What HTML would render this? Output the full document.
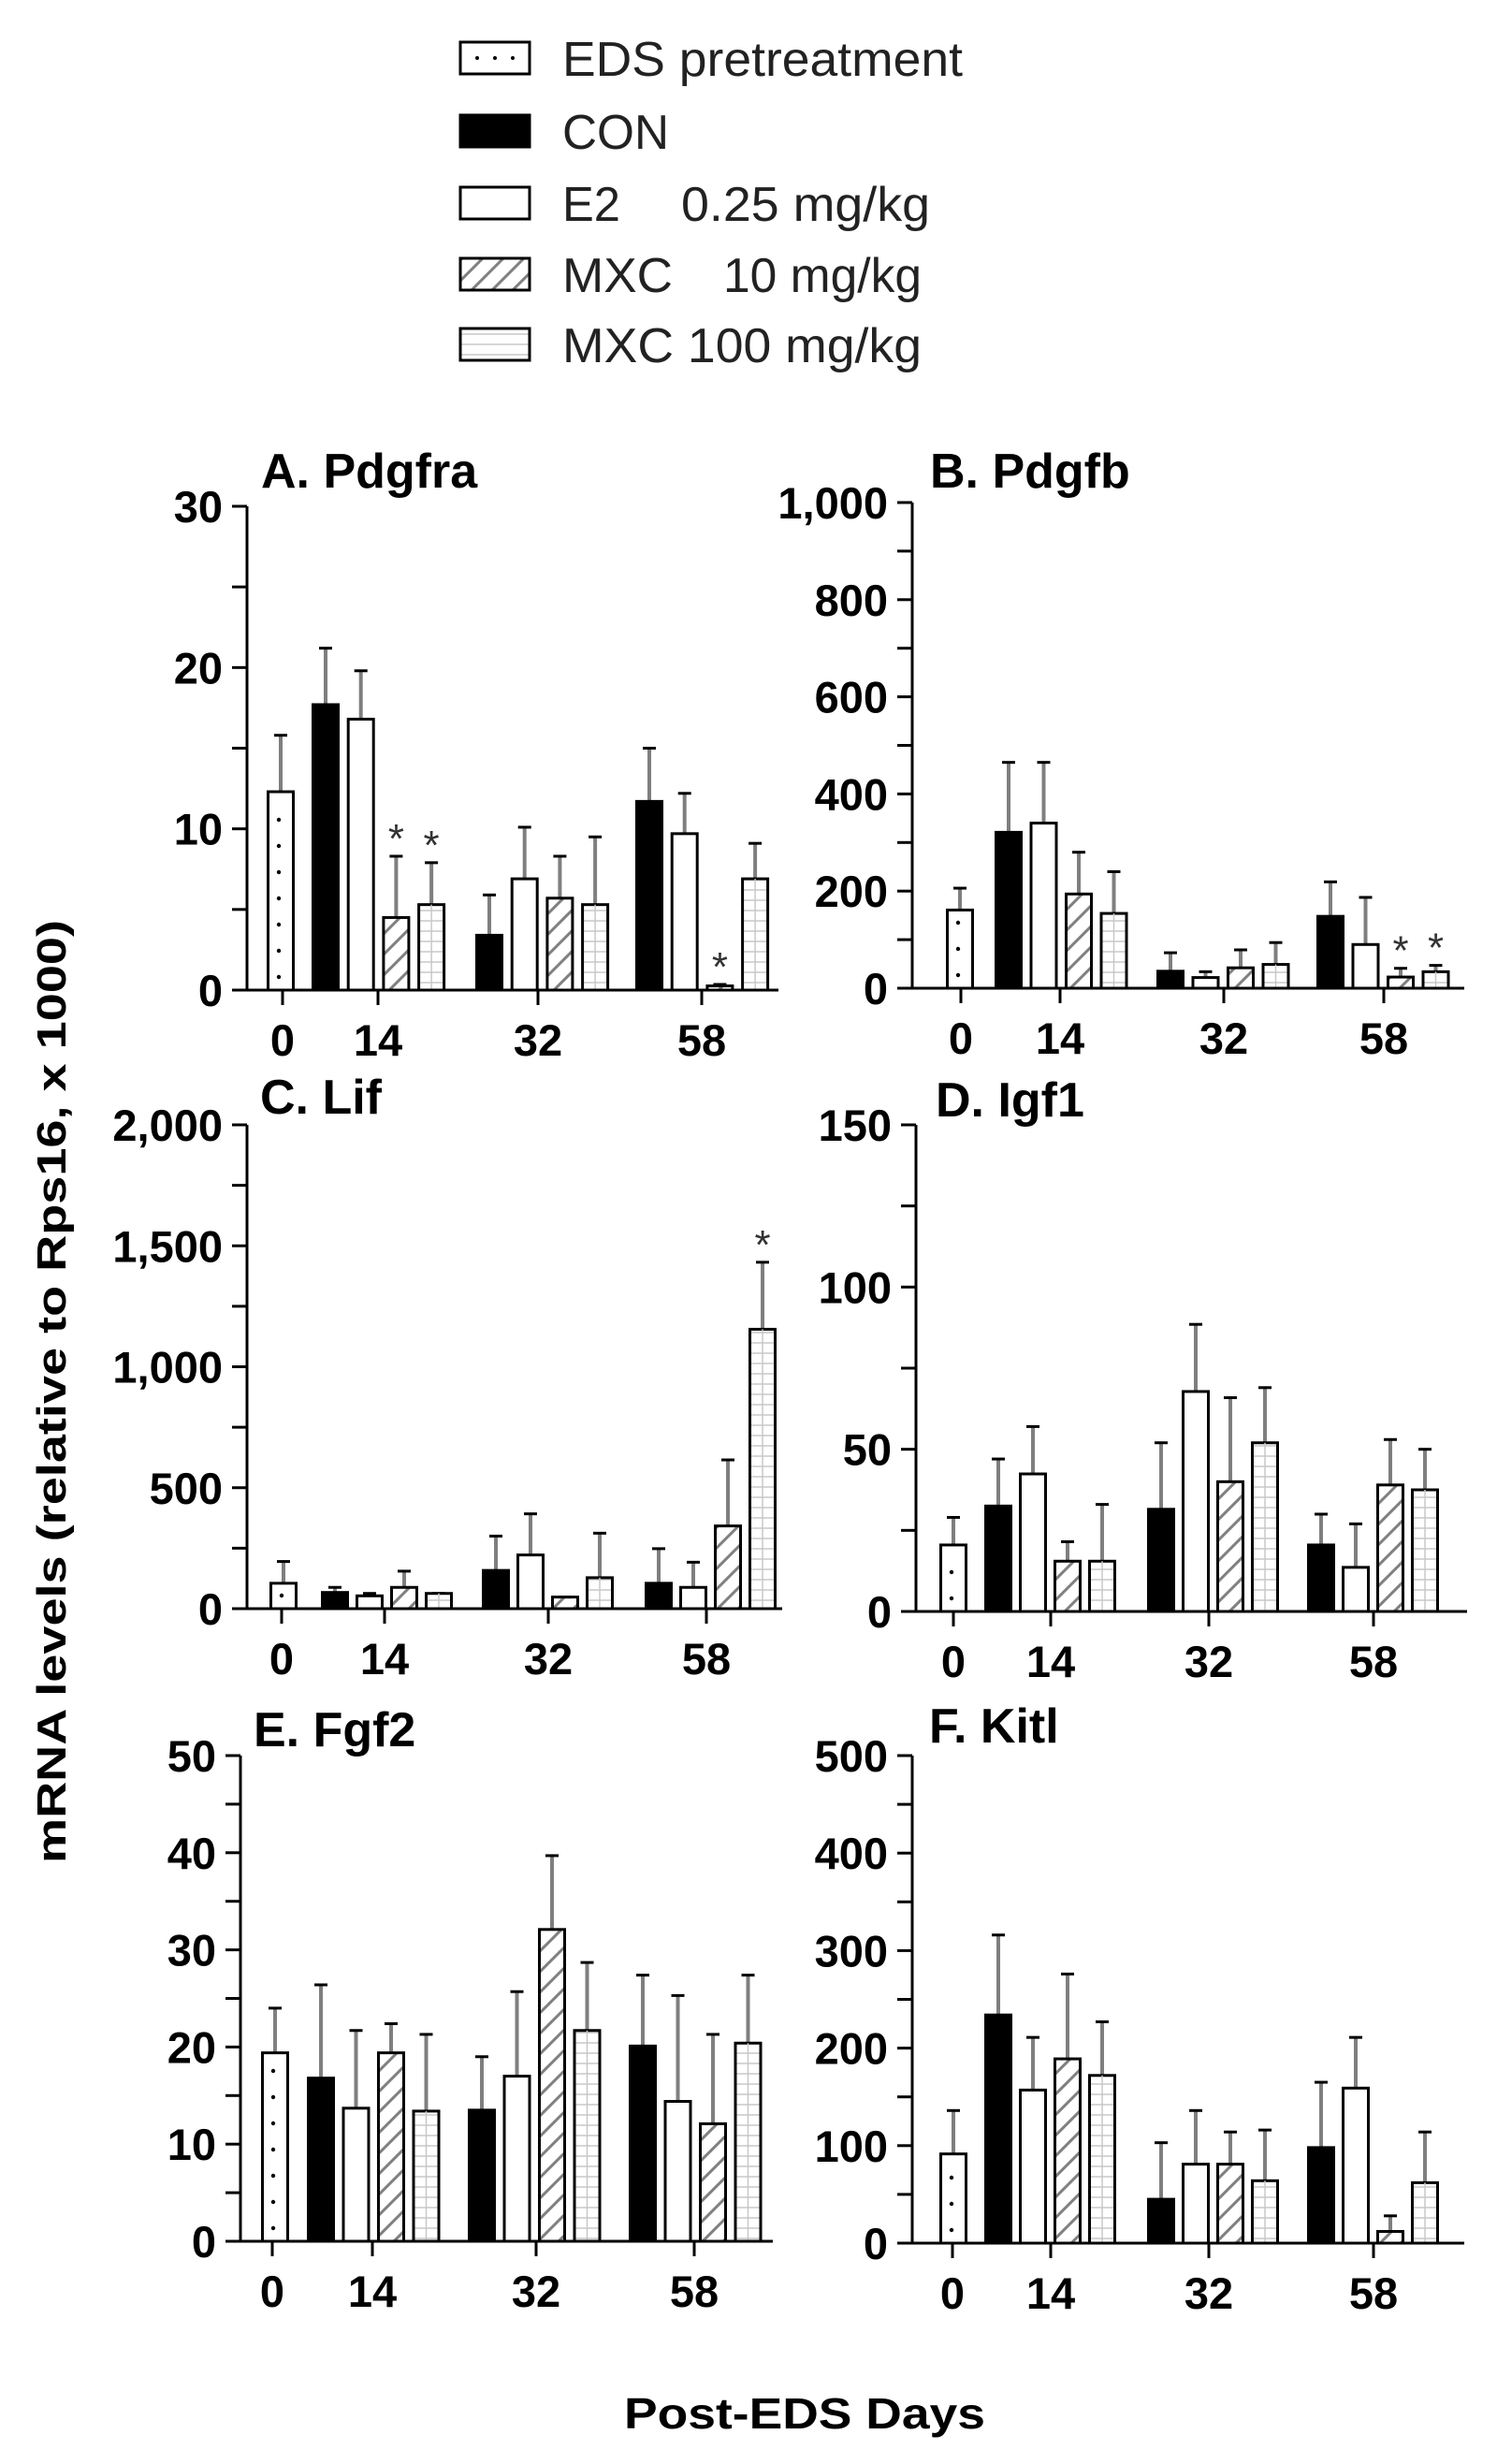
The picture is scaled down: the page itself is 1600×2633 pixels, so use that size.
<!DOCTYPE html>
<html><head><meta charset="utf-8"><style>
html,body{margin:0;padding:0;background:#fff}
svg{display:block}
text{font-family:"Liberation Sans",Arial,sans-serif}
</style></head><body>
<svg id="fig" width="1600" height="2633" viewBox="0 0 1600 2633" xmlns="http://www.w3.org/2000/svg">
<defs>
<pattern id="pHatch" patternUnits="userSpaceOnUse" width="22" height="22"><path d="M-5,27 L27,-5 M-5,5 L5,-5 M17,27 L27,17" stroke="#808080" stroke-width="3"/></pattern>
<pattern id="pGrid" patternUnits="userSpaceOnUse" width="200" height="11"><rect width="200" height="11" fill="#fff"/><line x1="0" y1="5" x2="200" y2="5" stroke="#c8c8c8" stroke-width="1.5"/></pattern>
</defs>
<g id="legend">
 <g><rect x="492" y="45" width="74" height="34" fill="#fff" stroke="#000" stroke-width="3"/><circle cx="510" cy="62" r="2" fill="#000"/><circle cx="529" cy="62" r="2" fill="#000"/><circle cx="548" cy="62" r="2" fill="#000"/>
 <text x="601" y="81" font-size="52" fill="#222" textLength="428" lengthAdjust="spacingAndGlyphs">EDS pretreatment</text></g>
 <g><rect x="492" y="123" width="74" height="34" fill="#000" stroke="#000" stroke-width="3"/>
 <text x="601" y="159" font-size="52" fill="#222" textLength="114" lengthAdjust="spacingAndGlyphs">CON</text></g>
 <g><rect x="492" y="200" width="74" height="34" fill="#fff" stroke="#000" stroke-width="3"/>
 <text x="601" y="236" font-size="52" fill="#222" textLength="62" lengthAdjust="spacingAndGlyphs">E2</text>
 <text x="728" y="236" font-size="52" fill="#222" textLength="266" lengthAdjust="spacingAndGlyphs">0.25 mg/kg</text></g>
 <g><rect x="492" y="276" width="74" height="34" fill="url(#pHatch)" stroke="#000" stroke-width="3"/>
 <text x="601" y="312" font-size="52" fill="#222" textLength="118" lengthAdjust="spacingAndGlyphs">MXC</text>
 <text x="773" y="312" font-size="52" fill="#222" textLength="212" lengthAdjust="spacingAndGlyphs">10 mg/kg</text></g>
 <g><rect x="492" y="351" width="74" height="34" fill="url(#pGrid)" stroke="#000" stroke-width="3"/>
 <text x="601" y="387" font-size="52" fill="#222" textLength="384" lengthAdjust="spacingAndGlyphs">MXC 100 mg/kg</text></g>
</g>
<text x="70" y="1487" font-size="44" font-weight="bold" text-anchor="middle" transform="rotate(-90 70 1487)" textLength="1008" lengthAdjust="spacingAndGlyphs">mRNA levels (relative to Rps16, x 1000)</text>
<text x="860" y="2595" font-size="46" font-weight="bold" text-anchor="middle" textLength="386" lengthAdjust="spacingAndGlyphs">Post-EDS Days</text>
</svg>
<script>
// x categories
const dayLabels = ["0","14","32","58"];
const groupNames = ["CON","E2","MXC10","MXC100"];
// Panel A. Pdgfra
const aEds = [12.3, 15.8];
const aMeans = [[17.7,16.8,4.5,5.3],[3.4,6.9,5.7,5.3],[11.7,9.7,0.26,6.9]];
const aErr = [[21.2,19.8,8.3,7.9],[5.9,10.1,8.3,9.5],[15.0,12.2,0.35,9.1]];
const aStars = [[0,2],[0,3],[2,2]];
const aTicks = [0,10,20,30];
// Panel B. Pdgfb
const bEds = [161, 206];
const bMeans = [[321,340,194,154],[35,22,42,49],[148,90,23,34]];
const bErr = [[465,465,280,240],[73,34,79,94],[219,187,41,47]];
const bStars = [[2,2],[2,3]];
const bTicks = [0,200,400,600,800,1000];
// Panel C. Lif
const cEds = [105, 195];
const cMeans = [[67,53,88,63],[158,222,48,128],[105,88,342,1155]];
const cErr = [[88,63,155,63],[300,392,48,312],[248,192,615,1432]];
const cStars = [[2,3]];
const cTicks = [0,500,1000,1500,2000];
// Panel D. Igf1
const dEds = [20.5, 29];
const dMeans = [[32.5,42.4,15.5,15.5],[31.5,67.8,40,52],[20.5,13.6,39,37.5]];
const dErr = [[47,57,21.5,33],[52,88.5,65.9,69],[30,27,53,50]];
const dStars = [];
const dTicks = [0,50,100,150];
// Panel E. Fgf2
const eEds = [19.4, 24];
const eMeans = [[16.8,13.7,19.4,13.4],[13.5,17,32.1,21.7],[20.1,14.4,12.1,20.4]];
const eErr = [[26.4,21.7,22.4,21.3],[19,25.7,39.7,28.7],[27.4,25.3,21.3,27.4]];
const eStars = [];
const eTicks = [0,10,20,30,40,50];
// Panel F. Kitl
const fEds = [91.5, 136];
const fMeans = [[234,157,189,172],[45,81,81,64],[98,159,12,62]];
const fErr = [[316,211,276,227],[103,136,114,116],[165,211,28,114]];
const fStars = [];
const fTicks = [0,100,200,300,400,500];

const NS="http://www.w3.org/2000/svg";
const svg=document.getElementById('fig');
function mk(tag,attrs,parent){const e=document.createElementNS(NS,tag);for(const k in attrs)e.setAttribute(k,attrs[k]);parent.appendChild(e);return e;}
const fills=["#000","#fff","url(#pHatch)","url(#pGrid)"];

const panels=[
 {id:"a",title:"A. Pdgfra",eds:aEds,means:aMeans,err:aErr,stars:aStars,ticks:aTicks,minor:5,max:30,fmt:false,
  ax:264,y0:1058,top:541,end:832,edsX:300,gx:[348,523,694],sp:37.7,tx:[302,404,575,750],tl:[279,521],lb:70},
 {id:"b",title:"B. Pdgfb",eds:bEds,means:bMeans,err:bErr,stars:bStars,ticks:bTicks,minor:100,max:1000,fmt:true,
  ax:975,y0:1056,top:537,end:1565,edsX:1026,gx:[1078,1251,1422],sp:37.5,tx:[1027,1133,1308,1479],tl:[994,521],lb:70},
 {id:"c",title:"C. Lif",eds:cEds,means:cMeans,err:cErr,stars:cStars,ticks:cTicks,minor:250,max:2000,fmt:true,
  ax:264,y0:1719,top:1202,end:836,edsX:303,gx:[358,530,704],sp:37,tx:[301,411,586,755],tl:[278,1190],lb:70},
 {id:"d",title:"D. Igf1",eds:dEds,means:dMeans,err:dErr,stars:dStars,ticks:dTicks,minor:25,max:150,fmt:false,
  ax:979,y0:1722,top:1202,end:1568,edsX:1019,gx:[1067,1241,1412],sp:37,tx:[1019,1123,1292,1468],tl:[1000,1193],lb:70},
 {id:"e",title:"E. Fgf2",eds:eEds,means:eMeans,err:eErr,stars:eStars,ticks:eTicks,minor:5,max:50,fmt:false,
  ax:257,y0:2395,top:1876,end:826,edsX:294,gx:[343,515,687],sp:37.5,tx:[291,398,573,742],tl:[271,1866],lb:70},
 {id:"f",title:"F. Kitl",eds:fEds,means:fMeans,err:fErr,stars:fStars,ticks:fTicks,minor:50,max:500,fmt:false,
  ax:975,y0:2397,top:1876,end:1565,edsX:1019,gx:[1067,1241,1412],sp:37,tx:[1018,1123,1292,1468],tl:[993,1862],lb:70}
];
const BW=27;
panels.forEach(p=>{
  const g=mk('g',{},svg);
  
  
  const ys=v=>p.y0-(v/p.max)*(p.y0-p.top);
  const t=mk('text',{x:p.tl[0],y:p.tl[1],'font-size':52,'font-weight':'bold'},g);t.textContent=p.title;
  
  
  function bar(cx,v,e,fill,name,dots){
    const y=ys(v),ye=ys(e);
    const st=mk('line',{x1:cx,x2:cx,y1:y,y2:ye,stroke:'#7f7f7f','stroke-width':4},g);
    
    
    mk('line',{x1:cx-7,x2:cx+7,y1:ye,y2:ye,stroke:'#000','stroke-width':3},g);
    const r=mk('rect',{x:cx-BW/2,y:y,width:BW,height:Math.max(p.y0-y,1),fill:fill,stroke:'#000','stroke-width':3},g);
    
    
    if(fill==='url(#pGrid)'){mk('line',{x1:cx,x2:cx,y1:y,y2:p.y0,stroke:'#c8c8c8','stroke-width':1.5},g);}
    if(dots){for(let yy=p.y0-14;yy>y+8;yy-=28){mk('circle',{cx:cx-2,cy:yy,r:2.2,fill:'#000'},g);}}
  }
  bar(p.edsX,p.eds[0],p.eds[1],'#fff','bar-'+p.id+'-eds',true);
  p.means.forEach((grp,gi)=>grp.forEach((v,si)=>{
    bar(p.gx[gi]+si*p.sp,v,p.err[gi][si],fills[si],'bar-'+p.id+'-d'+dayLabels[gi+1]+'-'+groupNames[si],false);
  }));
  p.stars.forEach(s=>{
    const cx=p.gx[s[0]]+s[1]*p.sp;
    const top=ys(p.err[s[0]][s[1]])-22;
    const st=mk('text',{x:cx,y:top+18,'font-size':44,'text-anchor':'middle',fill:'#333'},g);st.textContent='*';
    
    
  });
  const ya=mk('line',{x1:p.ax,x2:p.ax,y1:p.top,y2:p.y0+1.5,stroke:'#000','stroke-width':3},g);
  
  
  const xa=mk('line',{x1:p.ax,x2:p.end,y1:p.y0,y2:p.y0,stroke:'#000','stroke-width':3},g);
  
  
  for(let v=0;v<=p.max+1e-9;v+=p.minor){mk('line',{x1:p.ax-16,x2:p.ax,y1:ys(v),y2:ys(v),stroke:'#000','stroke-width':3},g);}
  p.ticks.forEach(v=>{
    const tl=mk('text',{x:p.ax-26,y:ys(v)+17,'font-size':47,'font-weight':'bold','text-anchor':'end'},g);
    tl.textContent=p.fmt?v.toLocaleString('en-US'):String(v);
    
    
  });
  dayLabels.forEach((d,i)=>{
    mk('line',{x1:p.tx[i],x2:p.tx[i],y1:p.y0,y2:p.y0+16,stroke:'#000','stroke-width':3},g);
    const xl=mk('text',{x:p.tx[i],y:p.y0+p.lb,'font-size':47,'font-weight':'bold','text-anchor':'middle'},g);
    xl.textContent=d;
    
    
  });
});
</script>
</body></html>
